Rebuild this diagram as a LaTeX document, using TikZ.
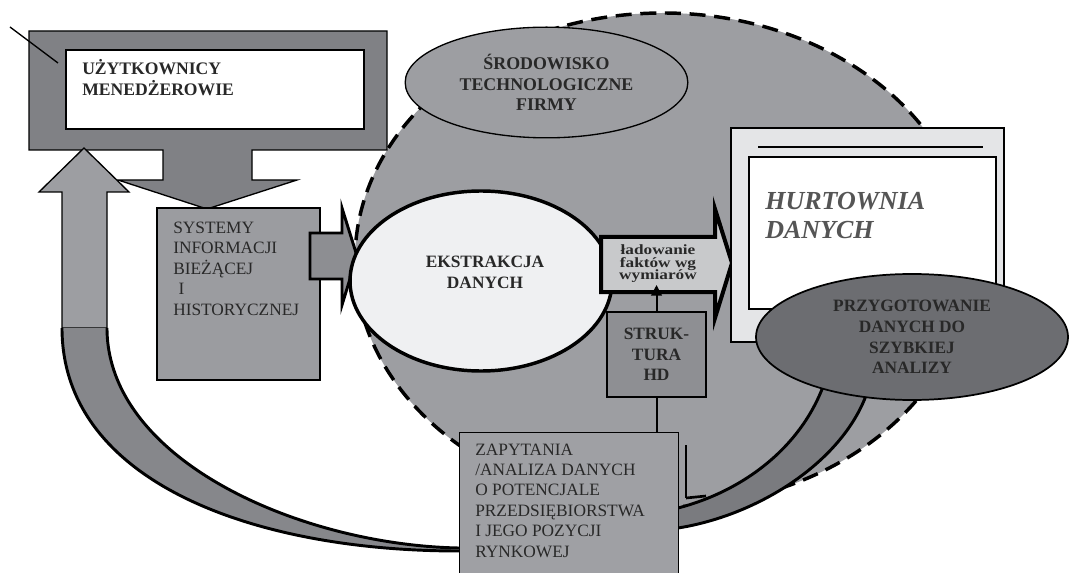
\documentclass[tikz,border=0pt]{standalone}
\usepackage{fontspec}
\setmainfont{Liberation Serif}
\newfontfamily\szeroki{Liberation Serif}[FakeStretch=1.22]
\usetikzlibrary{arrows.meta,shapes.geometric,positioning}

\definecolor{ramka}{RGB}{128,129,133}
\definecolor{jasnyszary}{RGB}{157,158,162}
\definecolor{wstega}{RGB}{134,135,139}
\definecolor{systemy}{RGB}{155,156,160}
\definecolor{otoczenie}{RGB}{157,158,162}
\definecolor{ekstrakcja}{RGB}{239,240,242}
\definecolor{strzalka}{RGB}{141,142,146}
\definecolor{ladowanie}{RGB}{200,201,203}
\definecolor{struktura}{RGB}{142,143,147}
\definecolor{hurtownia}{RGB}{228,229,231}
\definecolor{analiza}{RGB}{108,109,113}
\definecolor{wstegap}{RGB}{122,123,127}
\definecolor{zapytania}{RGB}{159,160,164}
\definecolor{tekst}{RGB}{40,40,40}
\definecolor{tekstszary}{RGB}{85,85,85}

\tikzset{
  obrys/.style={draw=black, line width=1pt},
  napis/.style={font=\fontsize{13}{15.3}\selectfont, text=tekst, inner sep=0pt, align=left},
  napisb/.style={napis, font=\fontsize{13}{15.3}\selectfont\bfseries, align=center},
}

\begin{document}
\begin{tikzpicture}[x=0.75pt, y=-0.75pt]
  \useasboundingbox (0,0) rectangle (1069,573);

  % duza elipsa - otoczenie
  \node[ellipse, fill=otoczenie, draw=black, line width=2.6pt, dash pattern=on 12pt off 6.5pt,
        minimum width=462pt, minimum height=370.5pt, inner sep=0pt] (otoczenie) at (663,260) {};
  \node[ellipse, obrys, fill=otoczenie, minimum width=212pt, minimum height=83pt, napisb,
        font=\fontsize{13.4}{15.3}\selectfont\bfseries]
        (srodowisko) at (546.5,82.5) {ŚRODOWISKO\\TECHNOLOGICZNE\\FIRMY};

  % uzytkownicy
  \draw[obrys, fill=ramka] (29,31) -- (387,31) -- (387,150) -- (252,150) -- (252,180) -- (297,180)
        -- (207,209) -- (118,180) -- (163,180) -- (163,150) -- (29,150) -- cycle;
  \node[obrys, fill=white, minimum width=223.5pt, minimum height=59.25pt, inner sep=0pt]
        (uzytkownicy) at (215,89.5) {};
  \node[napis, font=\fontsize{13.2}{15.75}\selectfont\bfseries, anchor=base west]
        (uzytkownicy-tekst) at (82,96) {UŻYTKOWNICY\\MENEDŻEROWIE};
  \coordinate (kreska-a) at (10,27);
  \coordinate (kreska-b) at (58,63);
  \draw[line width=1pt] (kreska-a) -- (kreska-b);

  % strzalka w gore i wstega
  \draw[obrys, fill=jasnyszary] (84,148) -- (129,192) -- (107,192) -- (107,328) -- (62,328)
        -- (62,192) -- (39,192) -- cycle;
  \fill[wstega] (62,328) .. controls (62,480) and (250,551) .. (459,551) -- (459,548)
        .. controls (300,545) and (107,460) .. (107,328) -- cycle;
  \draw[line width=2.2pt] (62,328) .. controls (62,480) and (250,551) .. (459,551);
  \draw[line width=2.2pt] (107,328) .. controls (107,460) and (300,545) .. (459,548);

  % systemy
  \node[draw=black, line width=2pt, fill=systemy, minimum width=122.25pt, minimum height=129pt,
        inner sep=0pt] (systemy) at (238.5,294) {};
  \node[napis, anchor=base west] (systemy-tekst) at (173,315)
        {SYSTEMY\\INFORMACJI\\BIEŻĄCEJ\\\hspace*{4pt}I\\HISTORYCZNEJ};
  \draw[line width=2.2pt, fill=strzalka] (310,233) -- (342,233) -- (342,208) -- (357,256)
        -- (342,305) -- (342,279) -- (310,279) -- cycle;

  % ekstrakcja
  \node[ellipse, draw=black, line width=2.6pt, fill=ekstrakcja, minimum width=196.5pt,
        minimum height=135pt, inner sep=0pt] (ekstrakcja) at (481,281) {};
  \node[napisb, anchor=base] (ekstrakcja-tekst) at (485,288) {EKSTRAKCJA\\DANYCH};

  % ladowanie
  \draw[line width=3pt, fill=ladowanie] (601,237) -- (715,237) -- (715,209) -- (732,263)
        -- (715,318) -- (715,292) -- (601,292) -- cycle;
  \node[napisb, font={\szeroki\fontsize{10.6}{9.4}\selectfont\bfseries\lineskiplimit=-20pt}, anchor=base]
        (ladowanie) at (658,280) {ładowanie\\faktów wg\\wymiarów};
  \coordinate (lad-grot) at (656.5,285);

  % struktura
  \node[draw=black, line width=1.5pt, fill=struktura, minimum width=74.25pt, minimum height=63.75pt,
        napisb] (struktura) at (656.5,354.5) {STRUK-\\TURA\\HD};
  \draw[line width=1.5pt, -{Triangle[length=8pt,width=8pt]}] (struktura.north) -- (lad-grot);

  % hurtownia
  \node[draw=black, line width=1.1pt, fill=hurtownia, minimum width=204.75pt, minimum height=160.5pt,
        inner sep=0pt] (hurtownia) at (867.5,235) {};
  \draw[line width=1.1pt] (758,147) -- (983,147);
  \node[draw=black, line width=1.1pt, fill=white, minimum width=185.25pt, minimum height=114pt,
        inner sep=0pt] (hurtownia-okno) at (872.5,233) {};
  \node[napis, font=\fontsize{19.5}{21.75}\selectfont\bfseries\itshape, text=tekstszary,
        anchor=base west] (hurtownia-tekst) at (765,239) {HURTOWNIA\\DANYCH};

  % wstega prawa
  \fill[wstegap] (824,384) .. controls (800,450) and (740,492) .. (678,508) -- (678,528)
        .. controls (760,515) and (845,460) .. (868,390) -- cycle;
  \draw[line width=2.2pt] (824,384) .. controls (800,450) and (740,492) .. (678,508);
  \draw[line width=2.2pt] (868,390) .. controls (845,460) and (760,515) .. (678,528);

  % przygotowanie
  \node[ellipse, draw=black, line width=1.3pt, fill=analiza, minimum width=234pt, minimum height=94.5pt,
        napisb, font=\fontsize{13}{15.4}\selectfont\bfseries] (przygotowanie) at (912,337)
        {PRZYGOTOWANIE\\DANYCH DO\\SZYBKIEJ\\ANALIZY};

  % zapytania
  \node[draw=black, line width=1.1pt, fill=zapytania, minimum width=164.25pt, minimum height=120pt,
        inner sep=0pt, anchor=north west] (zapytania) at (459,432) {};
  \node[napis, anchor=base west] (zapytania-tekst) at (475,557)
        {ZAPYTANIA\\/ANALIZA DANYCH\\O POTENCJALE\\PRZEDSIĘBIORSTWA\\I JEGO POZYCJI\\RYNKOWEJ};
  \draw[line width=1.5pt] (struktura.south) -- (struktura.south |- zapytania.north);
  \coordinate (kreska-c) at (686,445);
  \coordinate (kreska-d) at (686,498);
  \draw[line width=0.9pt] (kreska-c) -- (kreska-d);
  \draw[line width=2pt] (kreska-d) -- ++(20,-2);
\end{tikzpicture}
\end{document}
